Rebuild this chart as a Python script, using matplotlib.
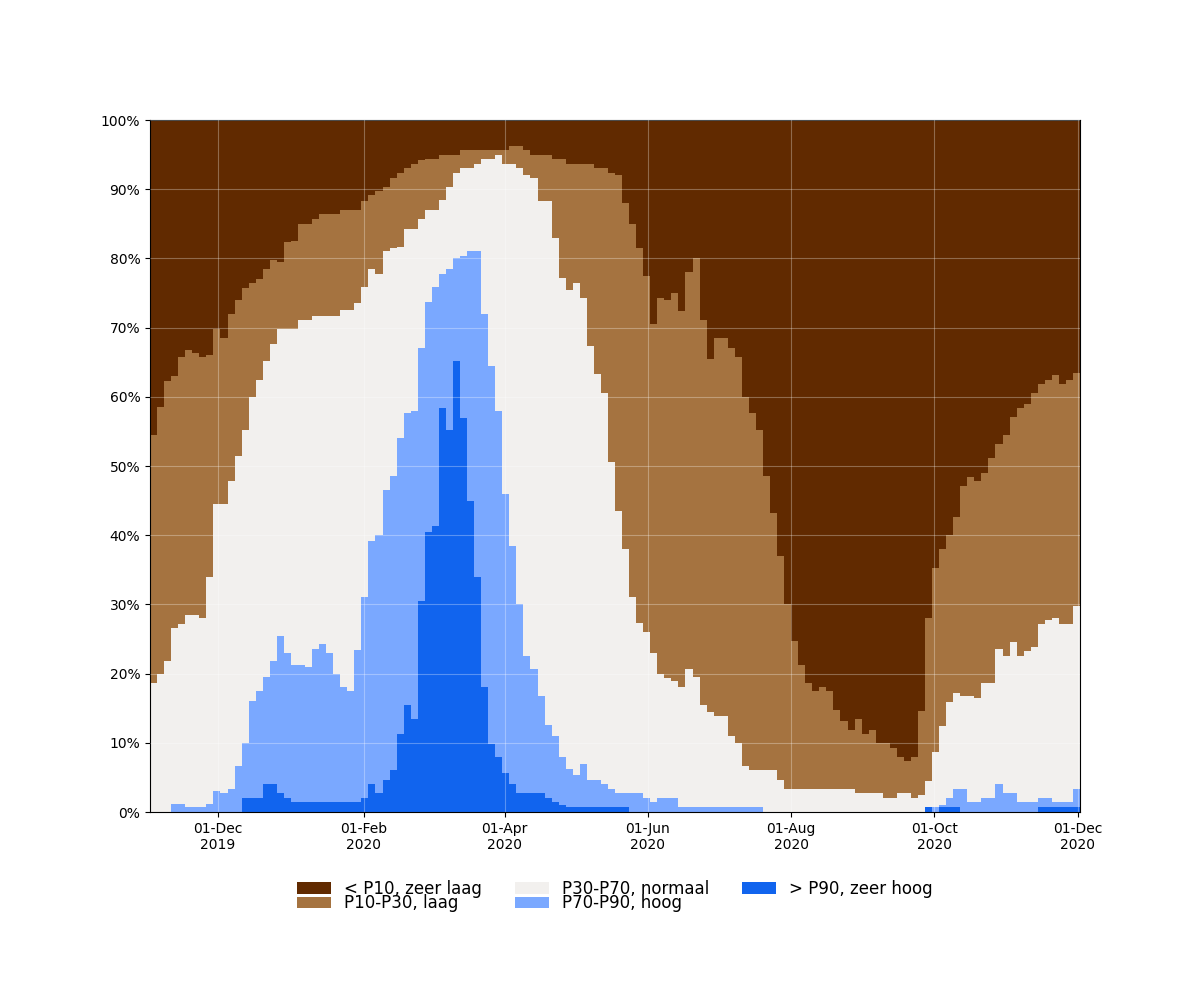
import matplotlib
matplotlib.use("Agg")
import matplotlib.pyplot as plt
import matplotlib.dates as mdates
import matplotlib.ticker as mtick
import numpy as np
import pandas as pd

# periods of 3 days, starting 2 Nov 2019
start = "2019-11-02"
step_days = 3

# cumulative share (%) up to the top of each class
cum_zeer_hoog = [0, 0, 0, 0, 0, 0, 0, 0, 0, 0, 0, 0, 0, 2.0, 2.0, 2.0, 4.0, 4.0, 2.7, 2.0, 1.4, 1.4,
                 1.4, 1.4, 1.4, 1.4, 1.4, 1.4, 1.4, 1.4, 2.0, 4.0, 2.7, 4.6, 6.0, 11.3, 15.4, 13.4, 30.5, 40.4, 41.3, 58.4, 55.2, 65.2,
                 57, 45, 34, 18, 9.8, 8.0, 5.6, 4.0, 2.7, 2.7, 2.7, 2.7, 2.0, 1.4, 1.0, 0.7, 0.7, 0.7, 0.7, 0.7, 0.7, 0.7,
                 0.7, 0.7, 0, 0, 0, 0, 0, 0, 0, 0, 0, 0, 0, 0, 0, 0, 0, 0, 0, 0, 0, 0,
                 0, 0, 0, 0, 0, 0, 0, 0, 0, 0, 0, 0, 0, 0, 0, 0, 0, 0, 0, 0, 0, 0,
                 0.7, 0, 0.7, 0.7, 0.7, 0, 0, 0, 0, 0, 0, 0, 0, 0, 0, 0, 0.7, 0.7, 0.7, 0.7, 0.7, 0.7]

cum_hoog = [0, 0, 0, 1.2, 1.2, 0.7, 0.7, 0.7, 1.2, 3.0, 2.7, 3.3, 6.7, 10, 16, 17.5, 19.5, 21.8, 25.5, 23, 21.3, 21.2,
            21.0, 23.5, 24.3, 23.0, 20.0, 18.0, 17.5, 23.4, 31, 39.1, 40.0, 46.5, 48.5, 54.0, 57.7, 58, 67, 73.7, 75.8, 77.7, 78.5, 80.0,
            80.4, 81.1, 81.0, 72.0, 64.5, 58, 46, 38.5, 30, 22.6, 20.7, 16.8, 12.6, 11, 7.9, 6.2, 5.4, 7.0, 4.6, 4.6, 4.0, 3.3,
            2.7, 2.7, 2.7, 2.7, 2.0, 1.4, 2.0, 2.0, 2.0, 0.7, 0.7, 0.7, 0.7, 0.7, 0.7, 0.7, 0.7, 0.7, 0.7, 0.7, 0.7, 0,
            0, 0, 0, 0, 0, 0, 0, 0, 0, 0, 0, 0, 0, 0, 0, 0, 0, 0, 0, 0, 0, 0,
            0.7, 0.7, 1.0, 2.0, 3.3, 3.3, 1.4, 1.4, 2.0, 2.0, 4.0, 2.7, 2.7, 1.4, 1.4, 1.4, 2.0, 2.0, 1.4, 1.4, 1.4, 3.3]

cum_normaal = [18.7, 20.0, 21.8, 26.6, 27.2, 28.5, 28.5, 28.0, 34, 44.5, 44.5, 47.8, 51.5, 55.2, 60, 62.4, 65.2, 67.7, 69.8, 69.8, 69.8, 71.1,
               71.1, 71.7, 71.7, 71.7, 71.7, 72.5, 72.5, 73.5, 75.8, 78.5, 77.8, 81.1, 81.5, 81.7, 84.3, 84.3, 85.7, 87.0, 87.0, 88.5, 90.3, 92.4,
               93.0, 93.0, 93.7, 94.4, 94.4, 94.9, 93.6, 93.6, 93.0, 92.0, 91.6, 88.3, 88.3, 83.0, 77.1, 75.5, 76.4, 74.3, 67.3, 63.3, 60.5, 50.6,
               43.5, 38, 31, 27.3, 26.0, 23.0, 20.0, 19.4, 19.0, 18.1, 20.7, 19.5, 15.5, 14.5, 13.9, 13.9, 11, 10, 6.7, 6.1, 6.1, 6.1,
               6.1, 4.6, 3.3, 3.3, 3.3, 3.3, 3.3, 3.3, 3.3, 3.3, 3.3, 3.3, 2.7, 2.7, 2.7, 2.7, 2.0, 2.0, 2.7, 2.7, 2.0, 2.5,
               4.5, 8.7, 12.5, 15.9, 17.2, 16.8, 16.8, 16.5, 18.7, 18.7, 23.5, 22.6, 24.6, 22.6, 23.3, 23.9, 27.2, 27.8, 28.0, 27.2, 27.2, 29.7]

cum_laag = [54.5, 58.5, 62.3, 63.0, 65.7, 66.8, 66.4, 65.7, 66, 69.8, 68.5, 71.9, 74, 75.7, 76.4, 77.0, 78.4, 79.8, 79.5, 82.4, 82.5, 85.0,
            85.0, 85.7, 86.4, 86.4, 86.4, 87.0, 87.0, 87.0, 88.3, 89.1, 89.8, 90.3, 91.6, 92.4, 93.1, 93.7, 94.2, 94.4, 94.4, 94.9, 94.9, 94.9,
            95.6, 95.6, 95.6, 95.6, 95.6, 95.6, 95.6, 96.2, 96.2, 95.6, 94.9, 94.9, 94.9, 94.3, 94.3, 93.6, 93.6, 93.6, 93.6, 93.0, 93.0, 92.4,
            92.0, 88.0, 85.0, 81.5, 77.5, 70.5, 74.3, 74.0, 75.0, 72.4, 78, 80.0, 71.1, 65.5, 68.5, 68.5, 67.1, 65.7, 60, 57.7, 55.2, 48.5,
            43.2, 37, 30, 24.7, 21.3, 18.7, 17.5, 18.0, 17.5, 14.8, 13.2, 11.9, 13.4, 11.3, 11.9, 10.0, 10.0, 9.3, 8.0, 7.3, 7.9, 14.6,
            28, 35.3, 38, 40.0, 42.6, 47.1, 48.4, 47.8, 49.0, 51.1, 53.2, 54.5, 57.1, 58.4, 59.0, 60.5, 61.8, 62.4, 63.1, 61.8, 62.4, 63.5]

labels = ["< P10, zeer laag", "P10-P30, laag", "P30-P70, normaal", "P70-P90, hoog", "> P90, zeer hoog"]
colors = ["#612a00", "#a57340", "#f2f0ee", "#7aa8ff", "#1164ee"]

n = len(cum_laag)
edges = pd.date_range(start, periods=n + 1, freq=f"{step_days}D")
x = mdates.date2num(edges.to_pydatetime())

zero = np.zeros(n)
full = np.full(n, 100.0)
# from bottom to top
levels = [zero, np.array(cum_zeer_hoog), np.array(cum_hoog), np.array(cum_normaal), np.array(cum_laag), full]
bottom_up_labels = labels[::-1]
bottom_up_colors = colors[::-1]

fig, ax = plt.subplots(figsize=(12, 10), dpi=100)
fig.subplots_adjust(left=0.125, right=0.9, top=0.88, bottom=0.188)

handles = []
for i in range(5):
    h = ax.stairs(levels[i + 1], x, baseline=levels[i], fill=True,
                  color=bottom_up_colors[i], label=bottom_up_labels[i], linewidth=0)
    handles.append(h)

ax.set_xlim(x[0], x[-1])
ax.set_ylim(0, 100)
ax.yaxis.set_major_locator(mtick.MultipleLocator(10))
ax.yaxis.set_major_formatter(mtick.PercentFormatter(decimals=0))
ax.xaxis.set_major_locator(mdates.MonthLocator(bymonth=[2, 4, 6, 8, 10, 12]))
ax.xaxis.set_major_formatter(mdates.DateFormatter("%d-%b\n%Y"))

ax.set_axisbelow(False)
ax.grid(True, color="white", alpha=0.3, linewidth=0.8)

ax.legend(handles[::-1], labels, loc="upper center", bbox_to_anchor=(0.5, -0.076),
          ncol=3, frameon=False, fontsize=12, labelspacing=-0.2)

plt.savefig("out.png", dpi=100)
